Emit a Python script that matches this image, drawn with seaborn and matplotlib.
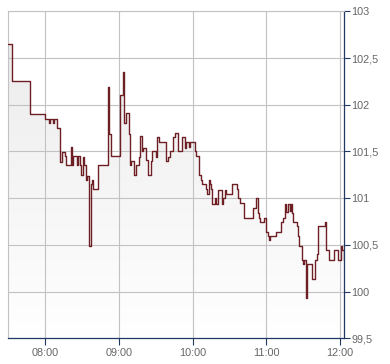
import numpy as np
import pandas as pd
import matplotlib
matplotlib.use("Agg")
import matplotlib.pyplot as plt
import seaborn as sns
from matplotlib.colors import LinearSegmentedColormap

times = [
    "07:30", "07:33", "07:48", "08:00", "08:03", "08:04", "08:06", "08:07", "08:10", "08:12",
    "08:14", "08:16", "08:17", "08:21", "08:22", "08:23", "08:26", "08:27", "08:28", "08:29",
    "08:31", "08:32", "08:33", "08:34", "08:36", "08:37", "08:38", "08:39", "08:43", "08:51",
    "08:52", "08:54", "09:01", "09:03", "09:04", "09:06", "09:08", "09:09", "09:10", "09:12",
    "09:14", "09:16", "09:17", "09:19", "09:20", "09:22", "09:24", "09:26", "09:27", "09:30",
    "09:31", "09:33", "09:38", "09:40", "09:42", "09:44", "09:46", "09:48", "09:51", "09:54",
    "09:55", "09:57", "09:58", "10:02", "10:03", "10:05", "10:07", "10:08", "10:11", "10:12",
    "10:13", "10:14", "10:15", "10:16", "10:18", "10:19", "10:21", "10:24", "10:25", "10:26",
    "10:27", "10:32", "10:36", "10:37", "10:39", "10:42", "10:49", "10:52", "10:53", "10:54",
    "10:55", "10:58", "11:00", "11:01", "11:02", "11:03", "11:08", "11:12", "11:14", "11:15",
    "11:16", "11:18", "11:19", "11:20", "11:21", "11:22", "11:25", "11:26", "11:27", "11:29",
    "11:30", "11:31", "11:32", "11:33", "11:37", "11:40", "11:41", "11:42", "11:48", "11:49",
    "11:51", "11:55", "11:58", "12:01", "12:02", "12:03", "12:04",
]
prices = [
    102.65, 102.25, 101.90, 101.85, 101.80, 101.85, 101.80, 101.85, 101.75, 101.39,
    101.49, 101.45, 101.35, 101.55, 101.35, 101.45, 101.35, 101.45, 101.35, 101.25,
    101.44, 101.35, 101.19, 101.24, 100.49, 101.15, 101.19, 101.10, 101.35, 102.19,
    101.69, 101.45, 102.10, 102.35, 101.80, 101.91, 101.69, 101.35, 101.40, 101.25,
    101.35, 101.44, 101.66, 101.50, 101.54, 101.41, 101.25, 101.40, 101.50, 101.44,
    101.65, 101.60, 101.40, 101.44, 101.50, 101.65, 101.70, 101.50, 101.65, 101.54,
    101.60, 101.55, 101.60, 101.50, 101.45, 101.25, 101.19, 101.15, 101.10, 101.04,
    101.19, 101.15, 101.10, 100.94, 101.00, 100.94, 101.09, 100.94, 101.00, 101.09,
    101.04, 101.15, 101.10, 101.00, 100.95, 100.79, 100.89, 101.00, 100.84, 100.79,
    100.74, 100.79, 100.64, 100.59, 100.55, 100.59, 100.64, 100.75, 100.79, 100.94,
    100.85, 100.94, 100.86, 100.94, 100.84, 100.75, 100.70, 100.59, 100.49, 100.34,
    100.30, 100.34, 99.93, 100.29, 100.14, 100.34, 100.40, 100.70, 100.75, 100.44,
    100.34, 100.44, 100.34, 100.49, 100.44, 100.34, 100.34,
]
y_ticks = [99.5, 100.0, 100.5, 101.0, 101.5, 102.0, 102.5, 103.0]
y_tick_labels = ["99,5", "100", "100,5", "101", "101,5", "102", "102,5", "103"]
x_tick_labels = ["08:00", "09:00", "10:00", "11:00", "12:00"]
x_start = "07:30"
x_span_minutes = 273.5


def to_min(s):
    h, m = s.split(":")
    return int(h) * 60 + int(m)


df = pd.DataFrame({"t": [to_min(s) for s in times], "price": prices})

sns.set_style("white")
plt.rcParams["font.family"] = ["Liberation Sans", "DejaVu Sans"]

fig = plt.figure(figsize=(3.9, 3.64), dpi=100)
ax = fig.add_axes([8.3 / 390, 1 - 338.3 / 364, (344.3 - 8.3) / 390, (338.3 - 11.3) / 364])

x0 = to_min(x_start)
x1 = x0 + x_span_minutes
ymin, ymax = y_ticks[0], y_ticks[-1]

# gradient area under the step line
fb = ax.fill_between(df["t"], df["price"], ymin, step="post", color="none", lw=0)
cmap = LinearSegmentedColormap.from_list("g", ["#eaeaea", "#ffffff"])
img = ax.imshow(np.linspace(0, 1, 256).reshape(-1, 1), cmap=cmap, aspect="auto",
                extent=[x0, x1, ymin, ymax], origin="upper", zorder=1, interpolation="bilinear")
img.set_clip_path(fb.get_paths()[0], transform=ax.transData)

sns.lineplot(data=df, x="t", y="price", drawstyle="steps-post", color="#6e1f24",
             lw=1.0, ax=ax, zorder=3, estimator=None, sort=False)

ax.set_xlim(x0, x1)
ax.set_ylim(ymin, ymax)
ax.set_xlabel("")
ax.set_ylabel("")

ax.set_xticks([to_min(s) for s in x_tick_labels])
ax.set_xticklabels(x_tick_labels)
ax.set_yticks(y_ticks)
ax.set_yticklabels(y_tick_labels)
ax.yaxis.tick_right()

ax.set_axisbelow("line")
ax.grid(True, color="#c2c2c2", lw=0.8)

navy = "#1f3864"
for side in ("left", "top"):
    ax.spines[side].set_color("#c2c2c2")
    ax.spines[side].set_linewidth(0.8)
for side in ("right", "bottom"):
    ax.spines[side].set_color(navy)
    ax.spines[side].set_linewidth(0.9)

ax.tick_params(axis="y", which="both", right=True, left=False, length=4, width=0.8,
               color=navy, pad=1, labelsize=7.8, labelcolor="#666666")
ax.tick_params(axis="x", which="both", bottom=True, length=5, width=0.8,
               color=navy, pad=2, labelsize=7.8, labelcolor="#666666")

fig.savefig("out.png", dpi=100)
